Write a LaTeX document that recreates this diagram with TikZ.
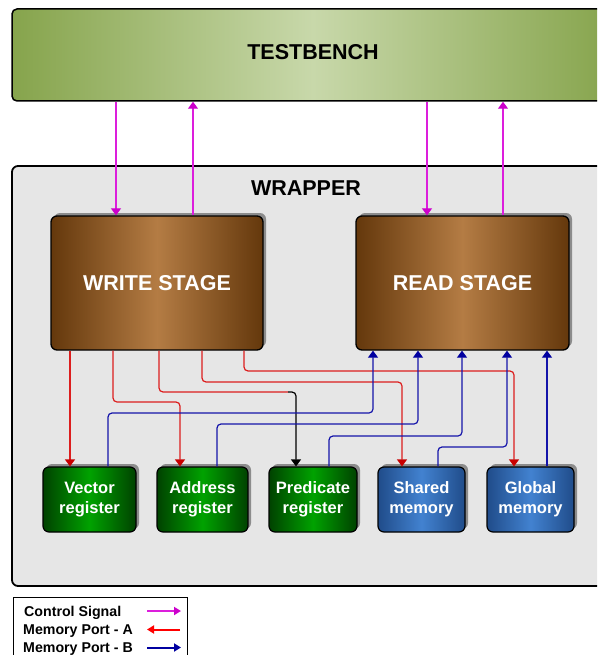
\documentclass[tikz,border=0pt]{standalone}
\usepackage{fontspec}
\setmainfont{Liberation Sans}
\usetikzlibrary{arrows.meta,shadows}
\definecolor{tbD}{RGB}{134,164,76}
\definecolor{tbL}{RGB}{200,216,170}
\definecolor{brD}{RGB}{100,56,12}
\definecolor{brL}{RGB}{180,124,68}
\definecolor{grD}{RGB}{0,66,0}
\definecolor{grL}{RGB}{0,162,0}
\definecolor{blD}{RGB}{32,76,138}
\definecolor{blL}{RGB}{66,130,208}
\definecolor{wrapfill}{RGB}{230,230,230}
\definecolor{lnRed}{RGB}{220,30,30}
\definecolor{tipRed}{RGB}{200,0,0}
\definecolor{lnBlue}{RGB}{20,20,170}
\definecolor{tipBlue}{RGB}{0,0,160}
\definecolor{lnMag}{RGB}{220,30,220}
\definecolor{tipMag}{RGB}{204,0,204}
\begin{document}
\begin{tikzpicture}[x=1pt,y=-1pt,
  big/.style={font=\fontsize{21.5}{25}\selectfont\bfseries},
  shad/.style={drop shadow={shadow xshift=3pt,shadow yshift=3pt,fill=black!45,opacity=1}},
  stagebox/.style={draw=black,line width=1.3pt,rounded corners=6pt,inner sep=0pt,
    minimum height=134pt,left color=brD,right color=brD,middle color=brL,
    text=white,big,shad},
  regbox/.style={draw=black,line width=1.2pt,rounded corners=6pt,inner sep=0pt,
    minimum height=65pt,text=white,align=center,
    font=\fontsize{16.5}{20}\selectfont\bfseries,shad},
  green/.style={regbox,left color=grD,right color=grD,middle color=grL},
  blue/.style={regbox,left color=blD,right color=blD,middle color=blL},
  porta/.style={draw=lnRed,line width=1.2pt,rounded corners=4pt,
    -{Triangle[width=10pt,length=7pt,color=tipRed]}},
  portaplain/.style={draw=lnRed,line width=1.2pt,rounded corners=4pt},
  portk/.style={draw=black,line width=1.2pt,rounded corners=4pt,
    -{Triangle[width=10pt,length=7pt,color=black]}},
  portb/.style={draw=lnBlue,line width=1.2pt,rounded corners=4pt,
    -{Triangle[width=10pt,length=7pt,color=tipBlue]}},
  ctrl/.style={draw=lnMag,line width=1.2pt,
    -{Triangle[width=10pt,length=7pt,color=tipMag]}},
  legtext/.style={anchor=base west,inner sep=0pt,font=\fontsize{14.2}{16}\selectfont\bfseries},
  legarrow/.style={line width=2pt}
]
\useasboundingbox (0,0) rectangle (597,655);
\clip (0,0) rectangle (597,655);
\fill[white] (0,0) rectangle (597,655);

% testbench
\node[draw=black,line width=1.5pt,rounded corners=5pt,minimum width=602pt,minimum height=92pt,
  left color=tbD,right color=tbD,middle color=tbL] (tb) at (313,55) {};
\node[big] (tbl) at (313,52) {TESTBENCH};

% wrapper
\node[draw=black,line width=1.8pt,rounded corners=6pt,fill=wrapfill,
  minimum width=602pt,minimum height=420pt] (wr) at (313,376) {};
\node[big] (wrl) at (306,188) {WRAPPER};

% stages
\node[stagebox,minimum width=212pt] (ws) at (157,283) {WRITE STAGE};
\node[stagebox,minimum width=213pt] (rs) at (462.5,283) {READ STAGE};

% registers / memories
\node[green,minimum width=93pt] (vec) at (89.5,499.5) {Vector\\register};
\node[green,minimum width=91pt] (addr) at (202.5,499.5) {Address\\register};
\node[green,minimum width=88pt] (pred) at (313,499.5) {Predicate\\register};
\node[blue,minimum width=87pt] (sh) at (421.5,499.5) {Shared\\memory};
\node[blue,minimum width=87pt] (gl) at (530.5,499.5) {Global\\memory};

% control signals
\draw[ctrl] (116,0 |- tb.south) -- (116,0 |- ws.north);
\draw[ctrl] (193,0 |- ws.north) -- (193,0 |- tb.south);
\draw[ctrl] (427,0 |- tb.south) -- (427,0 |- rs.north);
\draw[ctrl] (503,0 |- rs.north) -- (503,0 |- tb.south);

% memory port A (write stage -> storage)
\coordinate (pbend) at (288,392);
\draw[porta] (70,0 |- ws.south) -- (70,0 |- vec.north);
\draw[porta] (113,0 |- ws.south) |- (180,402) -- (180,0 |- addr.north);
\draw[portaplain] (159,0 |- ws.south) |- (pbend);
\draw[portk] (pbend) -| (296,0 |- pred.north);
\draw[porta] (202,0 |- ws.south) |- (402,382) -- (402,0 |- sh.north);
\draw[porta] (244,0 |- ws.south) |- (514,371) -- (514,0 |- gl.north);

% memory port B (storage -> read stage)
\draw[portb] (108,0 |- vec.north) |- (373,413) -- (373,0 |- rs.south);
\draw[portb] (217,0 |- addr.north) |- (418,424) -- (418,0 |- rs.south);
\draw[portb] (329,0 |- pred.north) |- (462,436) -- (462,0 |- rs.south);
\draw[portb] (438,0 |- sh.north) |- (507,447) -- (507,0 |- rs.south);
\draw[portb] (547,0 |- gl.north) -- (547,0 |- rs.south);

% legend
\node[draw=black,line width=0.8pt,fill=white,minimum width=174pt,minimum height=70pt,
  anchor=north west,inner sep=0pt] (leg) at (13,597) {};
\node[legtext] (l1) at (24,616) {Control Signal};
\node[legtext] (l2) at (23,634.5) {Memory Port - A};
\node[legtext] (l3) at (23,652.5) {Memory Port - B};
\coordinate (c1a) at (147,611); \coordinate (c1b) at (181,611);
\coordinate (c2a) at (180,629.5); \coordinate (c2b) at (147,629.5);
\coordinate (c3a) at (147,647.5); \coordinate (c3b) at (181,647.5);
\draw[legarrow,draw=lnMag,-{Triangle[width=8pt,length=7pt,color=tipMag]}] (c1a) -- (c1b);
\draw[legarrow,draw=red,-{Triangle[width=8pt,length=7pt,color=red]}] (c2a) -- (c2b);
\draw[legarrow,draw=tipBlue,-{Triangle[width=8pt,length=7pt,color=tipBlue]}] (c3a) -- (c3b);
\end{tikzpicture}
\end{document}
